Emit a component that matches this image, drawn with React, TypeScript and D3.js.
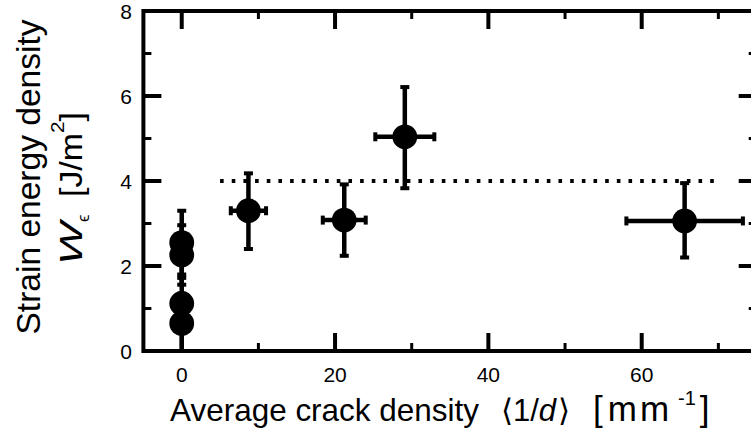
import React from "react";
import * as d3 from "d3";

// ---- data ----
const crackDensity = [0, 0, 0, 0, 8.7, 21.2, 29.1, 65.6];
const energyDensity = [2.55, 2.26, 1.12, 0.65, 3.3, 3.08, 5.04, 3.06];
const errUp = [0.75, 0.7, 0.6, 0.7, 0.88, 0.84, 1.17, 0.89];
const errDown = [0.75, 0.7, 0.6, 0.7, 0.9, 0.84, 1.21, 0.86];
const errX = [0, 0, 0, 0, 2.3, 2.8, 3.85, 7.6];
const xMajorTicks = [0, 20, 40, 60];
const xMinorTicks = [10, 30, 50, 70];
const yMajorTicks = [0, 2, 4, 6, 8];
const yMinorTicks = [1, 3, 5, 7];
const referenceLevel = 4;
const referenceRange = [5, 69.5];

const W = 751;
const H = 438;
const FONT = "'Liberation Sans', Arial, Helvetica, sans-serif";

export default function App() {
  const x = d3.scaleLinear().domain([-5, 75]).range([143.4, 756.7]);
  const y = d3.scaleLinear().domain([0, 8]).range([351, 11]);
  const [x0, x1] = x.range();
  const [yb, yt] = y.range();
  const majorLen = 18;
  const minorLen = 8;
  const tickW = 4;
  const minorW = 3;

  const points = crackDensity.map((cx, i) => ({
    cx,
    cy: energyDensity[i],
    up: errUp[i],
    down: errDown[i],
    ex: errX[i],
  }));

  return (
    <svg
      width={W}
      height={H}
      style={{ position: "absolute", left: 0, top: 0, background: "#fff" }}
      fontFamily={FONT}
    >
      <rect x={0} y={0} width={W} height={H} fill="#fff" />

      {/* reference dotted line */}
      <line
        x1={x(referenceRange[0])}
        x2={x(referenceRange[1])}
        y1={y(referenceLevel)}
        y2={y(referenceLevel)}
        stroke="#000"
        strokeWidth={3.8}
        strokeDasharray="3.6 8.07"
      />

      {/* error bars */}
      <g>
        {points.map((p, i) => {
          const px = x(p.cx);
          const py = y(p.cy);
          const yTop = y(p.cy + p.up);
          const yBot = Math.min(y(p.cy - p.down), yb);
          return (
            <g key={"e" + i}>
              <line x1={px} x2={px} y1={yTop} y2={yBot} stroke="#000" strokeWidth={4.5} />
              <rect x={px - 4.5} y={yTop - 2} width={9} height={4} fill="#000" />
              {y(p.cy - p.down) < yb && (
                <rect x={px - 4.5} y={yBot - 2} width={9} height={4} fill="#000" />
              )}
              {p.ex > 0 && (
                <>
                  <line
                    x1={x(p.cx - p.ex)}
                    x2={x(p.cx + p.ex)}
                    y1={py}
                    y2={py}
                    stroke="#000"
                    strokeWidth={4.5}
                  />
                  <rect x={x(p.cx - p.ex) - 2} y={py - 4.5} width={4} height={9} fill="#000" />
                  <rect x={x(p.cx + p.ex) - 2} y={py - 4.5} width={4} height={9} fill="#000" />
                </>
              )}
            </g>
          );
        })}
      </g>

      {/* markers */}
      <g>
        {points.map((p, i) => (
          <circle key={"c" + i} cx={x(p.cx)} cy={y(p.cy)} r={12.4} fill="#000" />
        ))}
      </g>

      {/* frame */}
      <rect
        x={x0}
        y={yt}
        width={x1 - x0}
        height={yb - yt}
        fill="none"
        stroke="#000"
        strokeWidth={4}
      />

      {/* x ticks bottom & top */}
      {xMajorTicks.map((t) => (
        <g key={"xM" + t}>
          <line x1={x(t)} x2={x(t)} y1={yb} y2={yb - majorLen} stroke="#000" strokeWidth={tickW} />
          <line x1={x(t)} x2={x(t)} y1={yt} y2={yt + majorLen} stroke="#000" strokeWidth={tickW} />
          <text x={x(t)} y={382} textAnchor="middle" fontSize={21}>
            {t}
          </text>
        </g>
      ))}
      {xMinorTicks.map((t) => (
        <g key={"xm" + t}>
          <line x1={x(t)} x2={x(t)} y1={yb} y2={yb - minorLen} stroke="#000" strokeWidth={minorW} />
          <line x1={x(t)} x2={x(t)} y1={yt} y2={yt + minorLen} stroke="#000" strokeWidth={minorW} />
        </g>
      ))}

      {/* y ticks left & right */}
      {yMajorTicks.map((t) => (
        <g key={"yM" + t}>
          <line x1={x0} x2={x0 + majorLen} y1={y(t)} y2={y(t)} stroke="#000" strokeWidth={tickW} />
          <line x1={x1} x2={x1 - majorLen} y1={y(t)} y2={y(t)} stroke="#000" strokeWidth={tickW} />
          <text x={132} y={y(t) + 7.5} textAnchor="end" fontSize={21}>
            {t}
          </text>
        </g>
      ))}
      {yMinorTicks.map((t) => (
        <g key={"ym" + t}>
          <line x1={x0} x2={x0 + minorLen} y1={y(t)} y2={y(t)} stroke="#000" strokeWidth={minorW} />
          <line x1={x1} x2={x1 - minorLen} y1={y(t)} y2={y(t)} stroke="#000" strokeWidth={minorW} />
        </g>
      ))}

      {/* x axis label */}
      <text x={170} y={421} fontSize={32} textLength={309} lengthAdjust="spacingAndGlyphs">
        Average crack density
      </text>
      <text x={501} y={421} fontSize={31}>
        {"\u27E81/"}
        <tspan fontStyle="italic">d</tspan>
        <tspan dx={2}>{"\u27E9"}</tspan>
      </text>
      <text x={593} y={421} fontSize={35}>
        [
        <tspan dx={5} letterSpacing={3}>mm</tspan>
        <tspan dx={6} dy={-16} fontSize={20}>
          -1
        </tspan>
        <tspan dx={4} dy={16}>]</tspan>
      </text>

      {/* y axis label */}
      <text
        transform="translate(40,177) rotate(-90)"
        textAnchor="middle"
        fontSize={33}
        textLength={315}
        lengthAdjust="spacingAndGlyphs"
      >
        Strain energy density
      </text>
      <text
        transform="translate(82,265) rotate(-90)"
        fontSize={31}
        fontStyle="italic"
        textLength={43}
        lengthAdjust="spacingAndGlyphs"
      >
        W
      </text>
      <text transform="translate(89,222) rotate(-90)" fontSize={17}>
        ϵ
      </text>
      <text
        transform="translate(82,197) rotate(-90)"
        fontSize={31}
        textLength={85}
        lengthAdjust="spacingAndGlyphs"
      >
        [J/m
        <tspan dy={-18} fontSize={19}>
          2
        </tspan>
        <tspan dy={18}>]</tspan>
      </text>
    </svg>
  );
}
